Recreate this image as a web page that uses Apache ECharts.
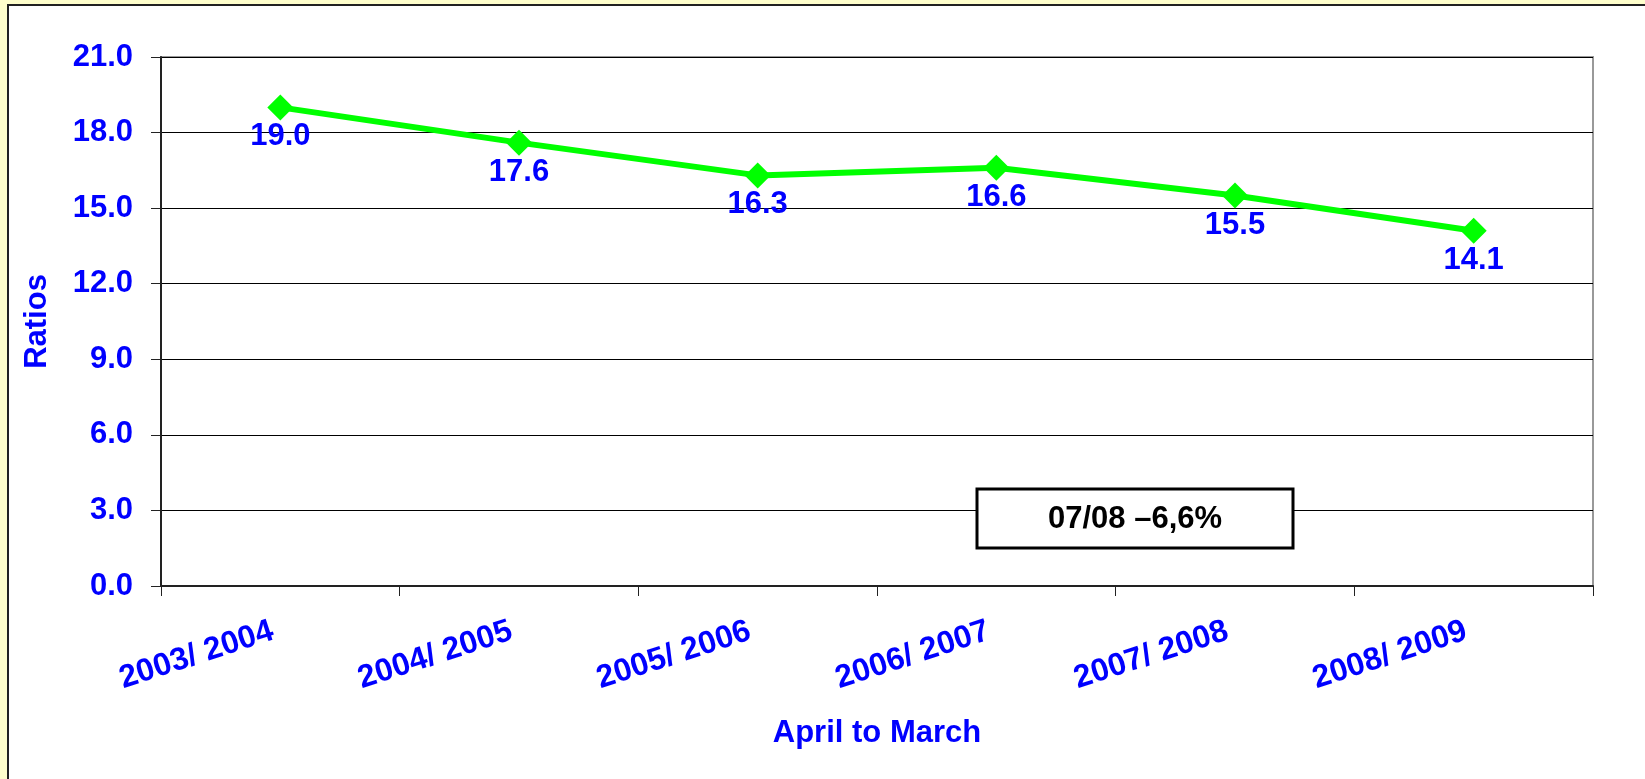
<!DOCTYPE html>
<html>
<head>
<meta charset="utf-8">
<script src="https://cdn.jsdelivr.net/npm/echarts@6/dist/echarts.min.js"></script>
<style>
  html, body { margin: 0; padding: 0; background: #ffffcc; }
  #chart { width: 1645px; height: 779px; }
</style>
</head>
<body>
<div id="chart"></div>
<script>
// 数据
const years = ["2003/ 2004", "2004/ 2005", "2005/ 2006", "2006/ 2007", "2007/ 2008", "2008/ 2009"];
const ratios = [19.0, 17.6, 16.3, 16.6, 15.5, 14.1];
const yTicks = [0, 3, 6, 9, 12, 15, 18, 21];
const noteText = "07/08 \u20136,6%";

const font = "'Liberation Sans', Arial, sans-serif";
const blue = "#0000ff";

const option = {
  backgroundColor: "#ffffcc",
  animation: false,
  textStyle: { fontFamily: font },
  // 外框和注释
  graphic: [
    {
      type: "rect",
      z: -10,
      silent: true,
      shape: { x: 8, y: 5, width: 1660, height: 800 },
      style: { fill: "#ffffff", stroke: "#222", lineWidth: 2 },
    },
    {
      type: "rect",
      z: 50,
      shape: { x: 977, y: 489, width: 316, height: 59 },
      style: { fill: "#ffffff", stroke: "#000", lineWidth: 3 },
    },
    {
      type: "text",
      z: 51,
      x: 1135,
      y: 519,
      style: {
        text: noteText,
        fill: "#000",
        font: "bold 31px " + font,
        align: "center",
        verticalAlign: "middle",
      },
    },
  ],
  grid: {
    left: 161,
    top: 57,
    right: 52,
    bottom: 193,
    show: true,
    borderColor: "#999",
    borderWidth: 2,
    backgroundColor: "#ffffff",
  },
  xAxis: {
    type: "category",
    data: years,
    boundaryGap: true,
    name: "April to March",
    nameLocation: "middle",
    nameGap: 132,
    nameTextStyle: { color: blue, fontWeight: "bold", fontSize: 31, fontFamily: font },
    axisLine: { lineStyle: { color: "#222", width: 2 } },
    axisTick: { show: true, length: 10, lineStyle: { color: "#222" } },
    axisLabel: {
      interval: 0,
      rotate: 18,
      margin: 42,
      color: blue,
      fontWeight: "bold",
      fontSize: 32,
      fontFamily: font,
      padding: [0, 8, 0, 0],
    },
  },
  yAxis: {
    type: "value",
    min: 0,
    max: 21,
    interval: 3,
    name: "Ratios",
    nameLocation: "middle",
    nameGap: 108,
    nameTextStyle: { color: blue, fontWeight: "bold", fontSize: 31, fontFamily: font },
    axisLine: { show: true, lineStyle: { color: "#222", width: 2 } },
    axisTick: { show: true, length: 10, lineStyle: { color: "#222" } },
    axisLabel: {
      margin: 28,
      color: blue,
      fontWeight: "bold",
      fontSize: 31,
      fontFamily: font,
      formatter: (v) => (yTicks.includes(v) ? v.toFixed(1) : ""),
    },
    splitLine: { lineStyle: { color: "#000", width: 1 } },
  },
  series: [
    {
      type: "line",
      data: ratios,
      symbol: "diamond",
      symbolSize: 26,
      itemStyle: { color: "#00ff00" },
      lineStyle: { color: "#00ff00", width: 6 },
      label: {
        show: true,
        position: "bottom",
        distance: 1,
        color: blue,
        fontWeight: "bold",
        fontSize: 31,
        fontFamily: font,
        formatter: (p) => p.value.toFixed(1),
      },
    },
  ],
};

echarts.init(document.getElementById("chart")).setOption(option);
</script>
</body>
</html>
